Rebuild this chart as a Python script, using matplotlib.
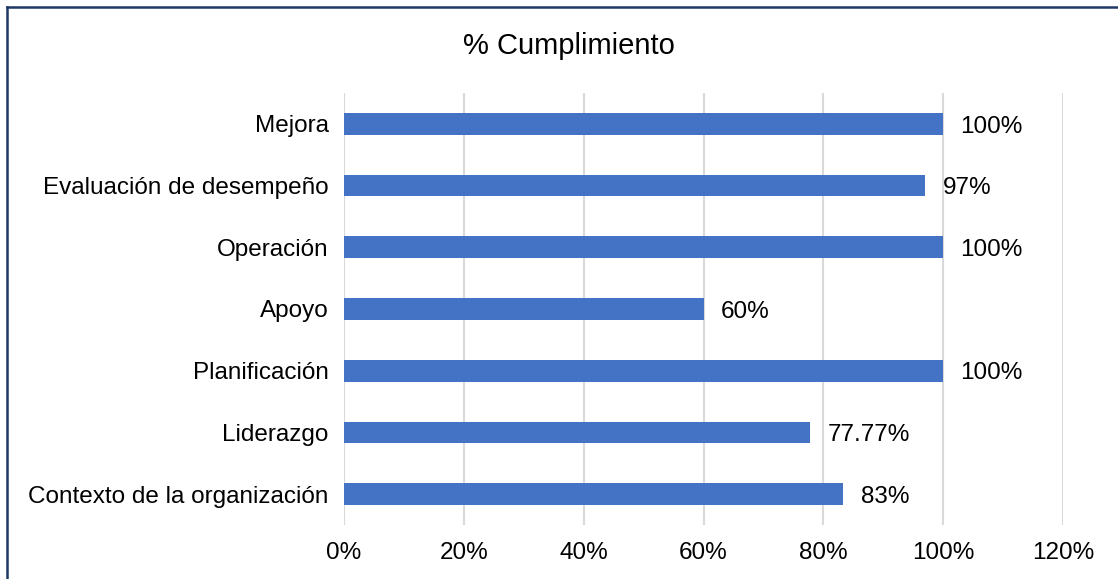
import matplotlib
matplotlib.use("Agg")
import matplotlib.pyplot as plt
from matplotlib.lines import Line2D
from matplotlib.ticker import FuncFormatter

categories = ["Contexto de la organización", "Liderazgo", "Planificación", "Apoyo",
              "Operación", "Evaluación de desempeño", "Mejora"]
values = [0.8333, 0.7777, 1.0, 0.60, 1.0, 0.97, 1.0]
labels = ["83%", "77.77%", "100%", "60%", "100%", "97%", "100%"]
ticks = [0, 0.2, 0.4, 0.6, 0.8, 1.0, 1.2]

plt.rcParams['font.family'] = ['Liberation Sans', 'DejaVu Sans']

fig = plt.figure(figsize=(11.18, 5.79), dpi=100)
W, H = 1118, 579
ax = fig.add_axes([344 / W, 1 - 525 / H, (1063 - 344) / W, (525 - 93) / H])

y = range(len(categories))
ax.barh(y, values, height=0.35, color="#4472C4", zorder=3)
for i, (v, lab) in enumerate(zip(values, labels)):
    ax.annotate(lab, (v, i), xytext=(12.5, -2), textcoords="offset points",
                va="center", ha="left", fontsize=17.5, color="#000000")

ax.set_xlim(0, 1.2)
ax.set_ylim(-0.5, len(categories) - 0.5)
ax.set_xticks(ticks)
ax.xaxis.set_major_formatter(FuncFormatter(lambda x, _: f"{x * 100:.0f}%"))
ax.set_yticks(list(y))
ax.set_yticklabels(categories)
ax.tick_params(axis="both", length=0, labelsize=17.5, colors="#000000")
ax.tick_params(axis="x", pad=12)
ax.tick_params(axis="y", pad=11)
ax.grid(axis="x", color="#D9D9D9", linewidth=1.5, zorder=0)
for s in ax.spines.values():
    s.set_visible(False)

fig.text(569 / W, 1 - 46 / H, "% Cumplimiento", ha="center", va="center", fontsize=21)

# marco azul oscuro (solo arriba e izquierda)
fig.add_artist(Line2D([7 / W, 1], [1 - 7 / H, 1 - 7 / H], color="#1F3864", linewidth=1.8))
fig.add_artist(Line2D([7 / W, 7 / W], [0, 1 - 7 / H], color="#1F3864", linewidth=1.8))

fig.savefig("out.png", dpi=100)
